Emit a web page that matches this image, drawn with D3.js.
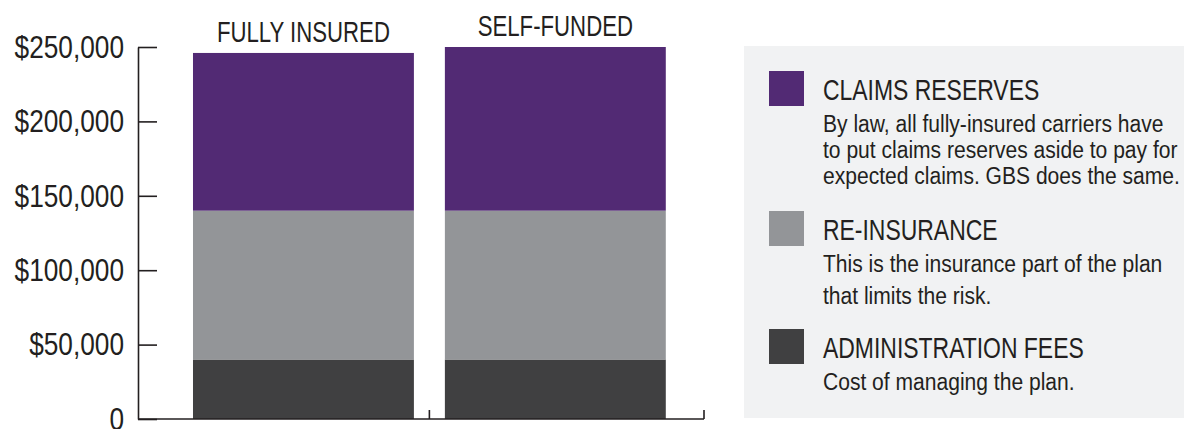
<!DOCTYPE html>
<html lang="en">
  <head>
    <meta charset="UTF-8" />
    <title>Fully Insured vs Self-Funded</title>
    <script src="https://cdn.jsdelivr.net/npm/d3@7"></script>
    <style>
      body { margin: 0; background: #fff; }
      svg { display: block; }
      text { font-family: "Liberation Sans", Arial, sans-serif; fill: #231f20; }
    </style>
  </head>
  <body>
    <svg id="chart" width="1184" height="429"></svg>
    <script>
      // data
      var categories = ["FULLY INSURED", "SELF-FUNDED"];
      var adminFees = [40000, 40000];
      var reInsurance = [100000, 100000];
      var claimsReserves = [106000, 110000];
      var yTicks = [0, 50000, 100000, 150000, 200000, 250000];

      var seriesKeys = ["admin", "reins", "claims"];
      var legendTitles = ["CLAIMS RESERVES", "RE-INSURANCE", "ADMINISTRATION FEES"];
      var legendKeys = ["claims", "reins", "admin"];
      var legendText = [
        ["By law, all fully-insured carriers have", "to put claims reserves aside to pay for", "expected claims. GBS does the same."],
        ["This is the insurance part of the plan", "that limits the risk."],
        ["Cost of managing the plan."]
      ];

      var colors = { claims: "#522a74", reins: "#939598", admin: "#404041" };

      // no condensed face installed, so squeeze Liberation Sans horizontally
      var sxAxis = 0.82, sxCat = 0.74, sxTitle = 0.765, sxDesc = 0.86;

      var svg = d3.select("#chart");

      var rows = categories.map(function(c, i) {
        return { cat: c, admin: adminFees[i], reins: reInsurance[i], claims: claimsReserves[i] };
      });
      var stacked = d3.stack().keys(seriesKeys)(rows);

      var xScale = d3.scaleBand()
        .domain(categories)
        .range([138, 704])
        .paddingInner(0.123)
        .paddingOuter(0.185)
        .align(0.59);

      var yScale = d3.scaleLinear()
        .domain([0, 250000])
        .range([419, 47]);

      // bars
      svg.selectAll(".layer")
        .data(stacked)
        .enter()
        .append("g")
        .attr("class", "layer")
        .attr("fill", function(d) { return colors[d.key]; })
        .selectAll("rect")
        .data(function(d) { return d; })
        .enter()
        .append("rect")
        .attr("x", function(d) { return xScale(d.data.cat); })
        .attr("y", function(d) { return yScale(d[1]); })
        .attr("width", xScale.bandwidth())
        .attr("height", function(d) { return yScale(d[0]) - yScale(d[1]); });

      // category labels sit just above each bar
      svg.selectAll(".cat-label")
        .data(rows)
        .enter()
        .append("text")
        .attr("class", "cat-label")
        .attr("transform", "scale(" + sxCat + ",1)")
        .attr("x", function(d) { return (xScale(d.cat) + xScale.bandwidth() / 2) / sxCat; })
        .attr("y", function(d) { return yScale(d.admin + d.reins + d.claims) - 11; })
        .attr("text-anchor", "middle")
        .style("font-size", "30px")
        .text(function(d) { return d.cat; });

      // y axis
      var yAxis = d3.axisLeft(yScale)
        .tickValues(yTicks)
        .tickSizeInner(-19)
        .tickSizeOuter(0)
        .tickPadding(13)
        .tickFormat(function(d) { return d === 0 ? "0" : "$" + d3.format(",")(d); });

      var gy = svg.append("g")
        .attr("class", "y-axis")
        .attr("transform", "translate(138,0)")
        .call(yAxis);
      gy.selectAll("path, line").attr("stroke", "#231f20").attr("stroke-width", 1.6);
      gy.selectAll("text")
        .attr("x", -14 / sxAxis)
        .attr("transform", "scale(" + sxAxis + ",1)")
        .attr("fill", "#231f20")
        .style("font-size", "32px")
        .style("font-family", "'Liberation Sans', Arial, sans-serif");

      // x axis: baseline with small upward ticks between the bars and at the end
      var y0 = yScale(0);
      var step = xScale.step();
      var xTicks = [
        xScale(categories[1]) - step * xScale.paddingInner() / 2,
        xScale.range()[1]
      ];
      var gx = svg.append("g").attr("class", "x-axis");
      gx.append("line")
        .attr("x1", xScale.range()[0])
        .attr("x2", xScale.range()[1])
        .attr("y1", y0)
        .attr("y2", y0)
        .attr("stroke", "#231f20")
        .attr("stroke-width", 1.6);
      gx.selectAll(".tick")
        .data(xTicks)
        .enter()
        .append("line")
        .attr("x1", function(d) { return d; })
        .attr("x2", function(d) { return d; })
        .attr("y1", y0)
        .attr("y2", y0 - 9)
        .attr("stroke", "#231f20")
        .attr("stroke-width", 1.6);

      // legend panel
      svg.append("rect")
        .attr("x", 744)
        .attr("y", 46)
        .attr("width", 440)
        .attr("height", 372)
        .attr("fill", "#f1f2f3");

      var itemTops = [71, 211, 329];
      var lineGaps = [26, 32, 26];

      var items = svg.selectAll(".legend-item")
        .data(legendTitles)
        .enter()
        .append("g")
        .attr("class", "legend-item")
        .attr("transform", function(d, i) { return "translate(769," + itemTops[i] + ")"; });

      items.append("rect")
        .attr("width", 35)
        .attr("height", 35)
        .attr("fill", function(d, i) { return colors[legendKeys[i]]; });

      items.append("text")
        .attr("transform", "scale(" + sxTitle + ",1)")
        .attr("x", 54 / sxTitle)
        .attr("y", 29)
        .style("font-size", "30px")
        .text(function(d) { return d; });

      items.each(function(d, i) {
        d3.select(this).selectAll(".desc")
          .data(legendText[i])
          .enter()
          .append("text")
          .attr("class", "desc")
          .attr("transform", "scale(" + sxDesc + ",1)")
          .attr("x", 54 / sxDesc)
          .attr("y", function(t, j) { return 61 + j * lineGaps[i]; })
          .style("font-size", "24.5px")
          .text(function(t) { return t; });
      });
    </script>
  </body>
</html>
